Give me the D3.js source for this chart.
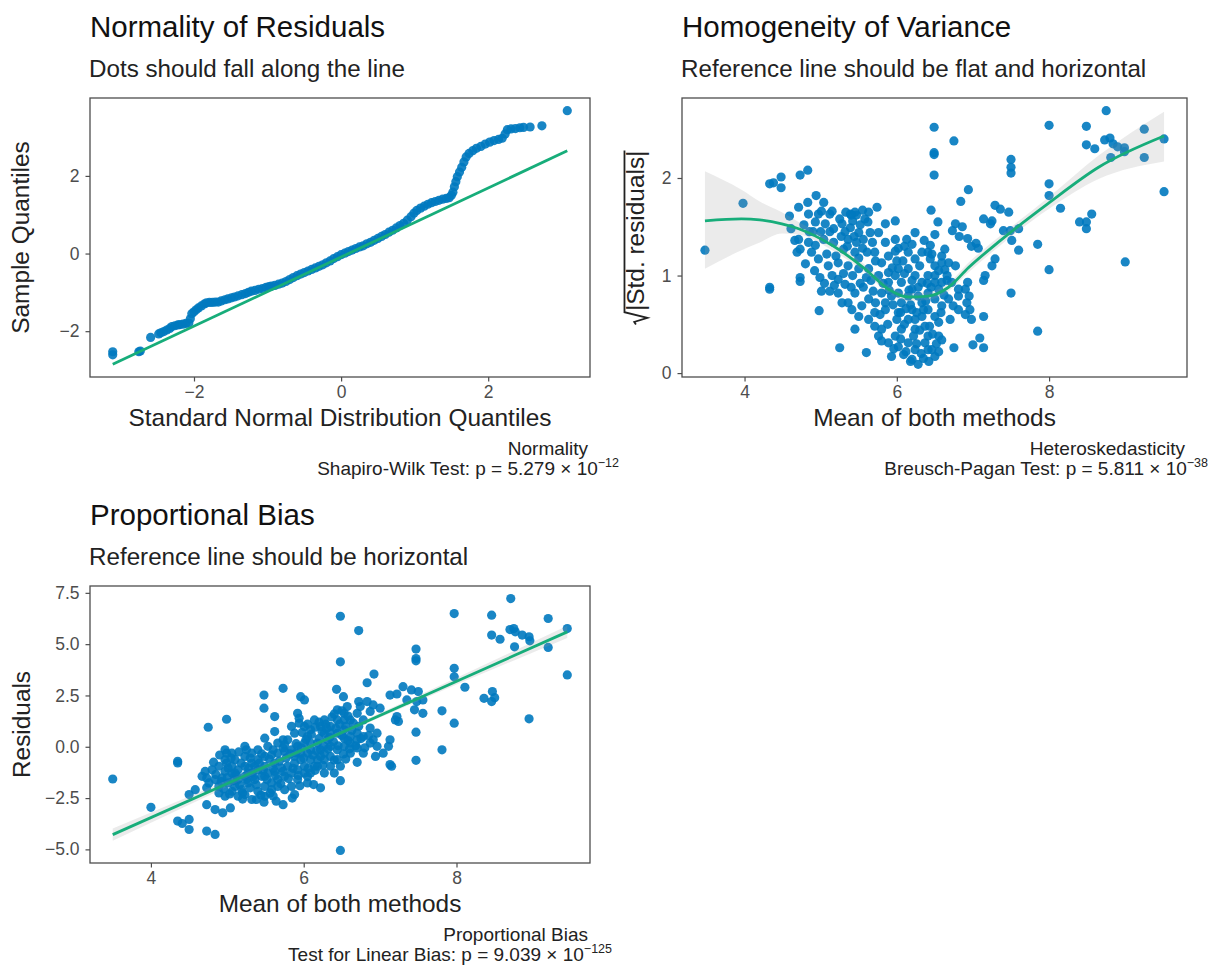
<!DOCTYPE html>
<html lang="en">
<head>
<meta charset="UTF-8">
<title>Model checks</title>
<script src="https://cdn.jsdelivr.net/npm/d3@7"></script>
<style>
  body { margin: 0; background: #fff; }
  svg { display: block; font-family: "Liberation Sans", Arial, sans-serif; }
</style>
</head>
<body>
<svg id="chart" width="1209" height="965"></svg>
<script>
// ---- data ----

// Q-Q plot: [theoretical quantile, sample quantile]
const qqPoints = [
  [-3.105,-2.53],[-3.105,-2.61],[-2.75,-2.53],[-2.73,-2.51],[-2.59,-2.16],[-2.48,-2.07],[-2.45,-2.04],
  [-2.41,-2.01],[-2.37,-1.97],[-2.33,-1.93],[-2.30,-1.88],[-2.26,-1.86],[-2.22,-1.84],[-2.19,-1.83],
  [-2.15,-1.82],[-2.11,-1.80],[-2.07,-1.79],[-2.05,-1.68],[-2.03,-1.55],[-2.00,-1.50],[-1.97,-1.45],
  [-1.94,-1.40],[-1.90,-1.35],[-1.86,-1.30],[-1.83,-1.27],[-1.79,-1.26],[-1.75,-1.26],[-1.71,-1.25],
  [-1.67,-1.25],[-1.63,-1.22],[-1.58,-1.19],[-1.54,-1.17],[-1.49,-1.14],[-1.45,-1.12],[-1.40,-1.09],
  [-1.35,-1.06],[-1.30,-1.03],[-1.26,-1.00],[-1.22,-0.97],[-1.17,-0.95],[-1.12,-0.92],[-1.07,-0.90],
  [-1.02,-0.87],[-0.98,-0.85],[-0.95,-0.84],[-0.90,-0.82],[-0.85,-0.79],[-0.80,-0.76],[-0.75,-0.72],
  [-0.70,-0.67],[-0.65,-0.62],[-0.60,-0.57],[-0.55,-0.53],[-0.50,-0.49],[-0.45,-0.45],[-0.40,-0.41],
  [-0.35,-0.37],[-0.30,-0.33],[-0.25,-0.29],[-0.20,-0.24],[-0.15,-0.19],[-0.10,-0.13],[-0.05,-0.08],
  [0.00,-0.03],[0.05,0.01],[0.10,0.05],[0.15,0.09],[0.20,0.13],[0.25,0.17],[0.30,0.20],[0.35,0.25],
  [0.40,0.29],[0.45,0.34],[0.50,0.39],[0.55,0.44],[0.60,0.49],[0.65,0.55],[0.70,0.60],[0.75,0.66],
  [0.80,0.72],[0.85,0.78],[0.90,0.86],[0.95,0.95],[0.99,1.04],[1.03,1.11],[1.08,1.17],[1.13,1.22],
  [1.18,1.27],[1.23,1.31],[1.28,1.34],[1.33,1.37],[1.38,1.40],[1.43,1.42],[1.47,1.44],[1.50,1.50],
  [1.52,1.58],[1.54,1.72],[1.56,1.85],[1.58,1.98],[1.61,2.10],[1.64,2.22],[1.67,2.36],[1.70,2.49],
  [1.74,2.58],[1.79,2.65],[1.84,2.71],[1.90,2.76],[1.96,2.82],[2.02,2.87],[2.08,2.91],[2.14,2.94],
  [2.19,2.97],[2.23,3.08],[2.26,3.19],[2.31,3.21],[2.37,3.22],[2.43,3.24],[2.48,3.25],[2.57,3.26],
  [2.73,3.29],[3.075,3.68]
];
const qqLineIntercept = -0.09;
const qqLineSlope = 0.89;

// Homogeneity of variance: [mean of both methods, sqrt(|std. residual|)]
const varPoints = [
  [3.48,1.26],[3.98,1.74],[4.33,0.88],[4.33,0.86],[4.33,1.94],[4.38,1.95],[4.48,2.01],[4.48,1.90],
  [4.73,2.03],[4.83,2.08],[4.73,0.98],[4.73,0.94],[4.98,0.64],[5.25,0.26],[5.60,0.21],[6.49,2.52],
  [6.49,2.26],[6.49,2.24],[6.49,2.03],[6.75,2.38],[6.94,1.88],[6.84,1.76],[6.45,1.67],[6.54,1.55],
  [7.50,2.19],[7.50,2.11],[7.50,2.05],[8.00,2.54],[8.00,1.94],[8.00,1.82],[8.15,1.69],[7.85,1.32],
  [8.00,1.06],[7.85,0.43],[7.50,0.82],[7.60,1.26],[8.49,2.53],[8.75,2.69],[8.49,2.34],[8.60,2.30],
  [8.73,2.39],[8.80,2.41],[8.84,2.35],[8.90,2.32],[8.99,2.31],[8.99,2.27],[8.81,2.21],[9.25,2.50],
  [9.25,2.21],[9.51,2.40],[9.51,1.86],[9.00,1.14],[8.40,1.55],[8.49,1.48],[8.56,1.63],[8.49,1.55],
  [7.60,1.48],[7.49,1.46],[7.29,1.72],[7.36,1.68],[7.47,1.65],[7.14,1.58],[7.25,1.56],[7.23,1.53],
  [7.40,1.46],[7.51,1.36],[7.29,1.17],[7.25,1.10],[7.16,1.00],[7.14,0.95],[7.14,0.58],[7.09,0.36],
  [7.14,0.26],[7.00,0.29],[6.75,0.26],[6.90,0.86],[6.95,0.79],[6.92,0.72],[6.96,0.65],[6.90,0.60],
  [6.98,0.55],[6.93,0.93],[6.77,1.53],[6.86,1.50],[6.73,1.46],[6.82,1.40],[6.93,1.38],[7.04,1.33],
  [6.98,1.30],[7.07,1.28],[6.63,1.27],[6.59,1.20],[6.68,1.13],[6.77,1.10],[6.63,1.06],
  [4.59,1.61],[4.71,1.70],[4.83,1.75],[4.94,1.82],[5.04,1.75],[4.84,1.63],[4.97,1.63],[5.12,1.63],
  [4.93,1.55],[5.06,1.53],[5.17,1.48],[5.28,1.53],[5.39,1.63],[5.47,1.62],[5.63,1.65],[5.74,1.70],
  [5.39,1.49],[5.50,1.44],[5.36,1.37],[5.47,1.34],[5.56,1.37],[5.65,1.44],[5.76,1.44],[5.85,1.53],
  [5.98,1.56],[5.85,1.34],[5.98,1.37],[6.13,1.37],[6.24,1.44],[5.98,1.25],[5.89,1.20],[5.80,1.13],
  [5.71,1.24],[5.61,1.24],[5.45,1.24],[5.30,1.27],[5.17,1.34],[5.04,1.37],[4.93,1.31],[4.84,1.34],
  [4.71,1.37],[4.88,1.24],[4.97,1.17],[5.10,1.10],[5.23,1.13],[5.36,1.10],[5.50,1.07],[5.63,1.07],
  [5.76,1.00],[5.89,1.03],[6.02,1.07],[6.15,1.07],[6.24,1.00],[6.33,0.93],[6.41,0.82],[6.33,0.72],
  [6.20,0.65],[6.06,0.72],[5.93,0.79],[5.80,0.82],[5.69,0.84],[5.56,0.88],[5.45,0.82],[5.32,0.91],
  [5.23,0.82],[5.12,0.84],[5.01,0.84],[4.99,0.98],[5.23,0.96],[5.36,0.72],[5.54,0.69],[5.71,0.62],
  [5.85,0.65],[6.02,0.62],[6.15,0.55],[6.24,0.45],[6.37,0.48],[6.50,0.58],[6.59,0.69],[6.68,0.76],
  [6.50,0.76],[6.41,0.65],[6.33,0.58],[6.24,0.55],[6.06,0.45],[5.98,0.38],[5.89,0.31],[5.80,0.45],
  [5.71,0.48],[5.63,0.55],[5.50,0.58],[5.76,0.38],[5.93,0.17],[6.09,0.19],[6.20,0.14],[6.28,0.09],
  [6.24,0.24],[6.37,0.31],[6.46,0.24],[6.55,0.38],[6.41,0.38],[6.15,0.31],[6.02,0.27],[5.80,0.33],
  [5.45,0.45],[5.41,0.65],[5.28,0.72],[5.63,0.76],[6.20,0.86],[6.06,0.93],[5.98,1.00],[6.50,1.00],
  [6.59,1.13],[6.72,0.93],[6.81,0.86],[6.59,0.93],[6.41,1.24],[6.33,1.24],[6.24,1.17],[6.15,1.24],
  [6.15,0.79],[6.28,0.79],[6.02,0.82],[5.89,0.93],[6.44,1.31],[6.46,1.22],[6.44,1.17],[6.50,1.10],
  [6.41,1.00],[6.50,0.93],[6.55,0.86],[5.15,1.66],[5.01,1.66],[4.61,1.48],[4.66,1.36],[4.73,1.27],
  [4.69,1.24],[5.45,1.65],[5.40,1.62],[6.81,0.79],[6.74,0.69],[6.81,0.65],[6.59,0.34],[6.50,0.17],
  [6.41,0.24],
  [5.25,1.58],[5.32,1.45],[5.42,1.56],[5.52,1.52],[5.58,1.58],[5.35,1.30],[5.44,1.40],[5.55,1.28],
  [5.27,1.40],[5.20,1.20],[5.50,1.18],[5.42,1.00],[5.60,0.98],[5.30,1.02],[5.15,1.00],[5.08,1.22],
  [5.00,1.45],[4.90,1.45],[5.12,1.45],[5.33,1.65],[5.55,1.67],[5.62,1.55],[5.68,1.34],[5.72,1.15],
  [5.66,0.95],[5.52,0.92],[5.40,0.88],[5.18,0.90],[5.05,0.92],[4.92,1.05],[4.80,1.12],[4.85,1.45],
  [4.78,1.52],[5.82,0.92],[5.90,0.85],[5.95,0.70],[6.00,0.55],[6.05,0.62],[6.10,0.50],[6.12,0.66],
  [6.18,0.70],[6.22,0.38],[6.26,0.30],[6.30,0.44],[6.32,0.20],[6.35,0.65],[6.38,0.74],[6.43,0.48],
  [6.47,0.40],[6.52,0.30],[6.55,0.52],[6.58,0.62],[6.62,0.80],[6.66,0.95],[6.70,0.55],[6.45,0.88],
  [6.40,0.92],[6.28,0.88],[6.20,0.95],[6.10,1.02],[6.00,1.15],[5.94,1.08],[5.85,0.72],[5.78,0.60],
  [5.72,0.72],[5.88,0.50],[5.96,0.25],[6.05,0.35],[6.12,0.22],[6.18,0.12],[6.35,0.15],[6.42,0.12],
  [6.55,0.22],[6.26,0.62],[6.16,0.85],[6.08,1.15],[6.02,1.28],[6.10,1.30],[6.20,1.32],[6.30,1.10],
  [6.36,1.36],[6.50,1.42],[6.55,1.05],[6.66,1.00]
];
// loess smooth with confidence band
const smoothX     = [3.48, 3.96, 4.20, 4.49, 4.71, 5.15, 5.58, 5.89, 6.15, 6.41, 6.68, 6.94, 7.33, 7.99, 8.65, 9.51];
const smoothFit   = [1.56, 1.58, 1.57, 1.53, 1.48, 1.31, 1.07, 0.86, 0.78, 0.79, 0.88, 1.08, 1.34, 1.74, 2.11, 2.43];
const smoothLower = [1.07, 1.26, 1.34, 1.43, 1.42, 1.26, 1.03, 0.82, 0.74, 0.75, 0.84, 1.03, 1.29, 1.68, 1.99, 2.17];
const smoothUpper = [2.07, 1.88, 1.76, 1.65, 1.55, 1.36, 1.11, 0.90, 0.82, 0.83, 0.92, 1.13, 1.39, 1.80, 2.23, 2.68];

// Proportional bias: [mean of both methods, residual]
const biasPoints = [
  [3.50,-1.57],[4.00,-2.95],[4.35,-0.71],[4.35,-0.79],[4.35,-3.62],[4.41,-3.74],[4.50,-3.54],[4.50,-4.03],
  [4.73,-4.11],[4.84,-4.27],[4.50,-2.33],[4.58,-2.09],[4.75,0.95],[4.99,1.34],[5.48,2.52],[5.48,1.88],
  [5.73,2.85],[6.48,6.36],[6.48,4.14],[6.72,5.66],[6.48,-1.65],[6.48,-5.05],[6.43,2.80],[6.52,2.44],
  [6.92,3.54],[6.83,3.12],[7.47,4.76],[7.47,4.30],[7.47,4.19],[7.97,6.49],[7.97,3.82],[7.97,3.41],
  [8.11,2.90],[7.81,1.75],[7.97,1.15],[7.81,-0.15],[7.47,0.71],[7.47,-0.66],[8.46,6.41],[8.46,5.44],
  [8.57,5.24],[8.71,7.22],[8.70,5.71],[8.77,5.60],[8.75,5.76],[8.86,5.44],[8.95,5.36],[8.96,5.16],
  [8.76,4.87],[9.20,6.25],[9.20,4.84],[9.45,5.76],[9.45,3.50],[8.95,1.36],[8.36,2.36],[8.47,2.69],
  [8.50,2.39],[8.46,2.20],[7.56,1.63],[7.48,2.20],[7.45,1.80],[7.30,2.93],[7.41,2.77],[7.50,2.69],
  [7.13,2.52],[7.22,2.57],[7.35,2.28],[7.56,2.28],[7.22,1.47],[7.24,1.23],[7.20,1.31],[7.13,0.34],
  [7.11,0.02],[7.04,-0.31],[7.15,-0.95],[7.13,-0.87],[6.96,0.66],[6.91,0.34],[6.96,0.02],[6.94,-0.47],
  [6.72,2.20],[6.83,2.20],[6.91,2.04],[7.00,1.88],[6.74,1.96],[6.87,1.72],[6.70,-0.06],[6.70,-0.76],
  [6.87,0.91],[6.70,0.66],[6.13,-1.84],[6.22,-2.00],[6.05,-1.76],[5.88,-2.33],[5.73,-2.82],[5.64,-2.65],
  [5.38,-2.57],[5.49,-2.41],[4.73,-2.82],[4.84,-3.06],[4.94,-3.22],[5.04,-2.98],[4.73,-1.52],[4.73,-2.00],
  [4.76,-1.76],[4.99,-0.31],[4.99,-0.79],[5.01,-1.04],[5.23,0.02],[5.25,-0.15],[5.49,0.42],[5.62,1.47],
  [5.73,0.34],[5.73,-0.06],[5.96,2.44],[6.01,2.28],[5.92,1.63],[5.94,1.39],
  [4.80,-1.12],[4.89,-0.95],[4.97,-1.20],[5.06,-1.28],[5.14,-1.12],[5.23,-0.95],[5.32,-0.79],[5.40,-0.63],
  [5.49,-0.47],[5.58,-0.39],[5.66,-0.31],[5.75,-0.23],[5.84,-0.15],[5.92,0.02],[6.01,0.18],[4.84,-1.60],
  [4.93,-1.52],[5.01,-1.76],[5.10,-1.93],[5.19,-2.09],[5.27,-1.76],[5.36,-1.60],[5.45,-1.44],[5.53,-1.28],
  [5.62,-1.20],[5.71,-1.04],[5.79,-0.95],[5.88,-0.79],[5.96,-0.63],[4.89,-2.25],[4.97,-2.41],[5.06,-2.17],
  [5.14,-2.41],[5.23,-2.33],[5.32,-2.57],[5.40,-2.17],[5.49,-1.93],[5.58,-1.76],[5.66,-1.60],[5.75,-1.44],
  [5.84,-1.28],[5.92,-1.12],[6.01,-0.95],[4.89,-1.93],[5.10,-0.63],[5.23,-0.47],[5.32,-0.31],[5.40,-0.15],
  [5.53,0.02],[5.66,0.18],[5.79,0.34],[5.88,0.66],[5.94,1.15],[6.01,0.99],[6.05,0.50],[6.09,0.83],
  [6.14,1.31],[6.22,0.99],[6.27,0.66],[6.31,0.34],[6.35,0.02],[6.27,-0.31],[6.18,-0.63],[6.09,-0.63],
  [6.05,-0.31],[5.96,-0.31],[5.88,-0.47],[6.18,0.18],[6.22,-0.15],[6.35,0.99],[6.44,1.31],[6.53,0.83],
  [6.61,0.50],[6.27,1.31],[6.09,0.18],[6.01,-1.28],[5.92,-1.60],[5.84,-1.93],[5.75,-2.09],[5.66,-1.93],
  [5.58,-2.09],[5.49,-1.44],[5.40,-1.12],[5.32,-1.28],[5.23,-1.44],[5.14,-1.60],[5.06,-0.95],[4.97,-0.63],
  [6.18,-0.95],[6.27,-0.63],[6.35,-0.47],[6.44,-0.15],[6.53,0.02],[6.61,0.18],[6.70,0.34],[6.78,0.50],
  [6.87,0.18],[6.78,-0.31],[6.61,-0.31],[6.48,-0.95],[6.40,-1.28],[6.35,-0.95],[6.27,-1.28],[6.09,-1.28],
  [6.53,1.63],[6.61,1.31],[6.44,1.80],[6.70,1.63],[6.78,1.31],[6.57,1.96],[6.22,-0.47],[6.44,-0.63],
  [6.09,-0.15],[6.14,-0.95],[5.49,-0.95],[5.62,-0.79],[5.10,-1.28],[5.27,-1.28],[4.67,-1.44],[4.71,-1.20],
  [5.06,-0.31],[4.97,-0.15],[5.62,0.74],[5.84,0.99],[6.53,1.31],[6.44,0.66],[6.35,0.66],[6.53,0.42],
  [4.85,-1.35],[4.92,-1.70],[4.95,-2.05],[5.00,-1.50],[5.03,-2.30],[5.08,-1.65],[5.12,-1.40],[5.16,-1.85],
  [5.18,-0.80],[5.20,-2.25],[5.25,-1.60],[5.28,-1.05],[5.30,-2.00],[5.34,-1.45],[5.36,-0.95],[5.38,-1.85],
  [5.42,-0.80],[5.44,-2.35],[5.47,-1.15],[5.52,-1.60],[5.55,-0.60],[5.56,-2.25],[5.60,-1.05],[5.63,-1.40],
  [5.68,-0.70],[5.70,-1.80],[5.73,-1.20],[5.77,-0.55],[5.80,-1.55],[5.82,-0.35],[5.86,-1.05],[5.90,-0.30],
  [5.93,-1.40],[5.97,-0.05],[6.00,-0.55],[6.03,0.35],[6.06,-1.05],[6.10,0.60],[6.12,-0.40],[6.15,0.95],
  [6.17,-0.20],[6.20,0.40],[6.24,0.75],[6.26,0.05],[6.29,1.10],[6.32,-0.10],[6.34,0.45],[6.37,1.45],
  [6.39,0.25],[6.42,0.90],[6.45,0.05],[6.47,1.10],[6.50,0.55],[6.52,-0.35],[6.55,1.00],[6.58,0.30],
  [6.60,-0.10],[6.63,0.80],[6.65,1.15],[6.68,0.05],[6.72,1.00],[6.75,0.40],[6.80,-0.05],[6.85,0.55],
  [6.58,1.50],[6.50,1.75],[6.40,1.60],[6.30,0.90],[6.20,1.20],[6.05,1.10],[5.98,0.70],[5.90,0.15],
  [5.75,0.10],[5.60,-0.15],[5.45,-0.35],[5.30,-0.55],[5.15,-0.25],[5.05,-0.55],[4.90,-0.40],[4.82,-0.75],
  [5.20,-2.55],[5.48,-2.70],[5.60,-2.40],[5.85,-2.50],[5.95,-1.90],[6.05,-1.45],[6.15,-1.15],[6.25,-0.90],
  [6.40,-0.65],[6.55,-0.60]
];
const biasLineIntercept = -10.09;
const biasLineSlope = 1.66;
const biasBandX = [3.50, 6.30, 9.45];
const biasBandHalf = [0.30, 0.10, 0.30];

// ticks
const qqXTicks = [-2, 0, 2];
const qqYTicks = [-2, 0, 2];
const meanTicks = [4, 6, 8];
const varYTicks = [0, 1, 2];
const biasYTicks = [-5, -2.5, 0, 2.5, 5, 7.5];

// ---- drawing ----
const svg = d3.select("#chart");
const dotFill = "#0079bf";
const lineGreen = "#17ad7a";

function expand(ext) {
  const w = ext[1] - ext[0];
  return [ext[0] - w * 0.05, ext[1] + w * 0.05];
}

function panel(box, xExt, yExt, o) {
  const x = d3.scaleLinear().domain(expand(xExt)).range([box.left, box.right]);
  const y = d3.scaleLinear().domain(expand(yExt)).range([box.bottom, box.top]);

  const ax = svg.append("g").attr("transform", `translate(0,${box.bottom})`)
    .call(d3.axisBottom(x).tickValues(o.xTicks).tickSize(4.5).tickPadding(4.5).tickFormat(o.xFmt || d3.format("d")));
  const ay = svg.append("g").attr("transform", `translate(${box.left},0)`)
    .call(d3.axisLeft(y).tickValues(o.yTicks).tickSize(4.5).tickPadding(6).tickFormat(o.yFmt || d3.format("d")));
  [ax, ay].forEach(a => {
    a.select(".domain").remove();
    a.attr("font-size", 17.5).attr("font-family", null);
    a.selectAll("text").attr("fill", "#4d4d4d");
    a.selectAll("line").attr("stroke", "#4d4d4d").attr("stroke-width", 1.2);
  });

  svg.append("text").attr("x", box.left).attr("y", box.top - 61)
    .attr("font-size", 29.5).attr("fill", "#111").text(o.title);
  svg.append("text").attr("x", box.left - 1).attr("y", box.top - 21.5)
    .attr("font-size", 24.2).attr("fill", "#222").text(o.subtitle);
  svg.append("text").attr("x", (box.left + box.right) / 2).attr("y", box.bottom + 49)
    .attr("text-anchor", "middle").attr("font-size", 24.4).attr("fill", "#222").text(o.xLabel);
  if (o.yLabel) {
    svg.append("text").attr("transform", `translate(${o.yLabelX},${(box.top + box.bottom) / 2}) rotate(-90)`)
      .attr("text-anchor", "middle").attr("font-size", 24.4).attr("fill", "#222").text(o.yLabel);
  }

  svg.append("text").attr("x", box.right - 2).attr("y", box.bottom + 78)
    .attr("text-anchor", "end").attr("font-size", 19).attr("fill", "#222").text(o.capTitle);
  const c = svg.append("text").attr("x", o.capRight).attr("y", box.bottom + 98)
    .attr("text-anchor", "end").attr("font-size", 19).attr("fill", "#222");
  c.append("tspan").text(o.capText);
  c.append("tspan").attr("font-size", 12.5).attr("dy", -8).text(o.capExp);

  const plot = svg.append("g");
  return { x, y, plot, box };
}

function frame(box) {
  svg.append("rect").attr("x", box.left).attr("y", box.top)
    .attr("width", box.right - box.left).attr("height", box.bottom - box.top)
    .attr("fill", "none").attr("stroke", "#4d4d4d").attr("stroke-width", 1.3);
}

function dots(p, data) {
  p.plot.append("g").selectAll("circle").data(data).join("circle")
    .attr("cx", d => p.x(d[0])).attr("cy", d => p.y(d[1])).attr("r", 4.6)
    .attr("fill", dotFill).attr("fill-opacity", 0.9);
}

// Panel 1: normality of residuals
{
  const box = { left: 90, right: 590, top: 98, bottom: 377 };
  const xExt = d3.extent(qqPoints, d => d[0]);
  const lineY = xExt.map(v => qqLineIntercept + qqLineSlope * v);
  const yExt = d3.extent(qqPoints.map(d => d[1]).concat(lineY));
  const p = panel(box, xExt, yExt, {
    xTicks: qqXTicks, yTicks: qqYTicks,
    title: "Normality of Residuals", subtitle: "Dots should fall along the line",
    xLabel: "Standard Normal Distribution Quantiles", yLabel: "Sample Quantiles", yLabelX: 29,
    capTitle: "Normality", capText: "Shapiro-Wilk Test: p = 5.279 × 10", capExp: "−12", capRight: 619
  });
  dots(p, qqPoints);
  p.plot.append("line")
    .attr("x1", p.x(xExt[0])).attr("y1", p.y(lineY[0]))
    .attr("x2", p.x(xExt[1])).attr("y2", p.y(lineY[1]))
    .attr("stroke", lineGreen).attr("stroke-width", 2.8);
  frame(box);
}

// Panel 2: homogeneity of variance
{
  const box = { left: 682, right: 1187, top: 98, bottom: 377 };
  const xExt = d3.extent(varPoints.map(d => d[0]).concat(smoothX));
  const yExt = d3.extent(varPoints.map(d => d[1]).concat(smoothLower, smoothUpper));
  const p = panel(box, xExt, yExt, {
    xTicks: meanTicks, yTicks: varYTicks,
    title: "Homogeneity of Variance", subtitle: "Reference line should be flat and horizontal",
    xLabel: "Mean of both methods",
    capTitle: "Heteroskedasticity", capText: "Breusch-Pagan Test: p = 5.811 × 10", capExp: "−38", capRight: 1208
  });
  dots(p, varPoints);
  const sm = smoothX.map((v, i) => ({ x: v, fit: smoothFit[i], lo: smoothLower[i], hi: smoothUpper[i] }));
  p.plot.append("path").datum(sm)
    .attr("d", d3.area().curve(d3.curveMonotoneX).x(d => p.x(d.x)).y0(d => p.y(d.lo)).y1(d => p.y(d.hi)))
    .attr("fill", "#999").attr("fill-opacity", 0.2);
  p.plot.append("path").datum(sm)
    .attr("d", d3.line().curve(d3.curveMonotoneX).x(d => p.x(d.x)).y(d => p.y(d.fit)))
    .attr("fill", "none").attr("stroke", lineGreen).attr("stroke-width", 2.8);
  frame(box);

  // y label: sqrt(|Std. residuals|) with radical and overline
  const fs = 24.4;
  const g = svg.append("g").attr("transform", `translate(644,${(box.top + box.bottom) / 2}) rotate(-90)`);
  const t = g.append("text").attr("font-size", fs).attr("fill", "#222").text("|Std. residuals|");
  const L = t.node().getComputedTextLength();
  const rad = 0.55 * fs;
  const x0 = -(L + rad) / 2;
  t.attr("x", x0 + rad);
  g.append("path")
    .attr("d", `M${x0},${-0.33 * fs} L${x0 + 0.1 * fs},${-0.4 * fs} L${x0 + 0.27 * fs},${0.14 * fs} L${x0 + 0.5 * fs},${-0.8 * fs} L${x0 + rad + L},${-0.8 * fs}`)
    .attr("fill", "none").attr("stroke", "#222").attr("stroke-width", 1.8);
}

// Panel 3: proportional bias
{
  const box = { left: 90, right: 590, top: 586, bottom: 863 };
  const xExt = d3.extent(biasPoints, d => d[0]);
  const yExt = d3.extent(biasPoints, d => d[1]);
  const p = panel(box, xExt, yExt, {
    xTicks: meanTicks, yTicks: biasYTicks, yFmt: d3.format(".1f"),
    title: "Proportional Bias", subtitle: "Reference line should be horizontal",
    xLabel: "Mean of both methods", yLabel: "Residuals", yLabelX: 30,
    capTitle: "Proportional Bias", capText: "Test for Linear Bias: p = 9.039 × 10", capExp: "−125", capRight: 612
  });
  dots(p, biasPoints);
  const fit = v => biasLineIntercept + biasLineSlope * v;
  const band = biasBandX.map((v, i) => ({ x: v, lo: fit(v) - biasBandHalf[i], hi: fit(v) + biasBandHalf[i] }));
  p.plot.append("path").datum(band)
    .attr("d", d3.area().curve(d3.curveMonotoneX).x(d => p.x(d.x)).y0(d => p.y(d.lo)).y1(d => p.y(d.hi)))
    .attr("fill", "#999").attr("fill-opacity", 0.2);
  p.plot.append("line")
    .attr("x1", p.x(biasBandX[0])).attr("y1", p.y(fit(biasBandX[0])))
    .attr("x2", p.x(biasBandX[2])).attr("y2", p.y(fit(biasBandX[2])))
    .attr("stroke", lineGreen).attr("stroke-width", 2.8);
  frame(box);
}
</script>
</body>
</html>
